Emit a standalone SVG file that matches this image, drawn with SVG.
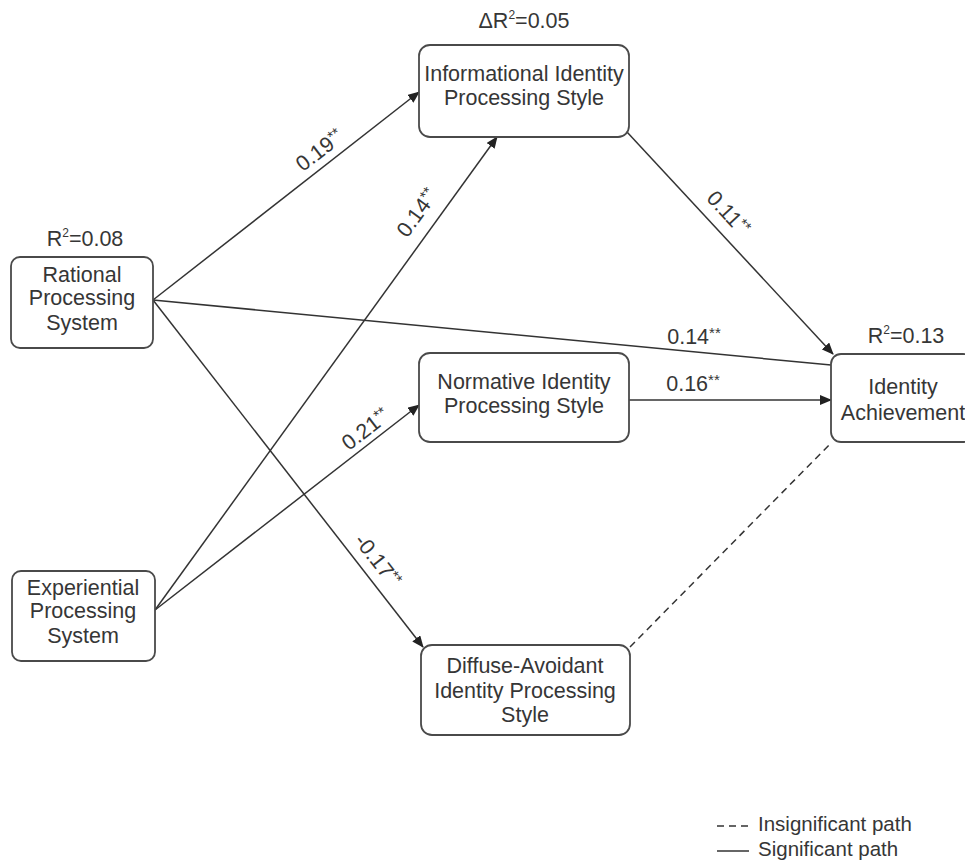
<svg xmlns="http://www.w3.org/2000/svg" width="965" height="863" viewBox="0 0 965 863">
<style>
.box{fill:#ffffff;stroke:#4a4a4a;stroke-width:1.8}
.t{font-family:"Liberation Sans",Arial,sans-serif;font-size:21.5px;fill:#363636;text-anchor:middle}
.lbl{font-family:"Liberation Sans",Arial,sans-serif;font-size:21.5px;fill:#363636;text-anchor:middle}
.sup{font-size:15px}
.sq{font-size:12px}
.ln{stroke:#333333;stroke-width:1.5;fill:none}
.dash{stroke:#333333;stroke-width:1.5;fill:none;stroke-dasharray:7,5}
.leg{font-family:"Liberation Sans",Arial,sans-serif;font-size:20.5px;fill:#363636}
</style>
<defs>
<marker id="arr" markerWidth="12" markerHeight="10" refX="11" refY="5" orient="auto" markerUnits="userSpaceOnUse">
<path d="M0,0 L12,5 L0,10 Z" fill="#222222"/>
</marker>
</defs>
<rect width="965" height="863" fill="#ffffff"/>

<g id="connectors">
<line class="ln" x1="153" y1="300" x2="419" y2="92" marker-end="url(#arr)"/>
<line class="ln" x1="153" y1="300" x2="831" y2="365"/>
<line class="ln" x1="153" y1="300" x2="423" y2="647" marker-end="url(#arr)"/>
<line class="ln" x1="155" y1="610" x2="497" y2="137" marker-end="url(#arr)"/>
<line class="ln" x1="155" y1="610" x2="419" y2="405" marker-end="url(#arr)"/>
<line class="ln" x1="629" y1="400" x2="831" y2="400" marker-end="url(#arr)"/>
<line class="ln" x1="627" y1="132" x2="833" y2="354" marker-end="url(#arr)"/>
<line class="dash" x1="630" y1="647" x2="832" y2="442"/>
</g>

<g id="labels">
<text class="lbl" transform="translate(324,156) rotate(-37.5)">0.19<tspan class="sup" dy="-6">**</tspan></text>
<text class="lbl" transform="translate(423,217) rotate(-54)">0.14<tspan class="sup" dy="-6">**</tspan></text>
<text class="lbl" transform="translate(370,435) rotate(-37.6)">0.21<tspan class="sup" dy="-6">**</tspan></text>
<text class="lbl" transform="translate(372,565) rotate(52)">-0.17<tspan class="sup" dy="-6">**</tspan></text>
<text class="lbl" transform="translate(723,218) rotate(47.4)">0.11<tspan class="sup" dy="-6">**</tspan></text>
<text class="lbl" x="694" y="344">0.14<tspan class="sup" dy="-6">**</tspan></text>
<text class="lbl" x="693" y="391">0.16<tspan class="sup" dy="-6">**</tspan></text>
</g>

<g id="rational">
<text class="t" x="85" y="246">R<tspan class="sq" dy="-9">2</tspan><tspan dy="9">=0.08</tspan></text>
<rect class="box" x="11" y="257" width="142" height="91" rx="9"/>
<text class="t" x="82" y="282">Rational</text>
<text class="t" x="82" y="305">Processing</text>
<text class="t" x="82" y="330">System</text>
</g>

<g id="experiential">
<rect class="box" x="12" y="571" width="143" height="90" rx="9"/>
<text class="t" x="83" y="595">Experiential</text>
<text class="t" x="83" y="618">Processing</text>
<text class="t" x="83" y="643">System</text>
</g>

<g id="informational">
<text class="t" x="524" y="28">ΔR<tspan class="sq" dy="-9">2</tspan><tspan dy="9">=0.05</tspan></text>
<rect class="box" x="419" y="45" width="210" height="92" rx="11"/>
<text class="t" x="524" y="81">Informational Identity</text>
<text class="t" x="524" y="105">Processing Style</text>
</g>

<g id="normative">
<rect class="box" x="419" y="353" width="210" height="89" rx="11"/>
<text class="t" x="524" y="389">Normative Identity</text>
<text class="t" x="524" y="413">Processing Style</text>
</g>

<g id="diffuse">
<rect class="box" x="421" y="645" width="209" height="90" rx="11"/>
<text class="t" x="525" y="673">Diffuse-Avoidant</text>
<text class="t" x="525" y="698">Identity Processing</text>
<text class="t" x="525" y="722">Style</text>
</g>

<g id="achievement">
<text class="t" x="906" y="343">R<tspan class="sq" dy="-9">2</tspan><tspan dy="9">=0.13</tspan></text>
<rect class="box" x="831" y="354" width="142" height="88" rx="10"/>
<text class="t" x="903" y="394">Identity</text>
<text class="t" x="903" y="420">Achievement</text>
</g>

<g id="legend">
<line class="dash" x1="717" y1="826" x2="749" y2="826" stroke-dasharray="6,5"/>
<text class="leg" x="758" y="831">Insignificant path</text>
<line class="ln" x1="717" y1="851" x2="749" y2="851"/>
<text class="leg" x="758" y="856">Significant path</text>
</g>
</svg>
